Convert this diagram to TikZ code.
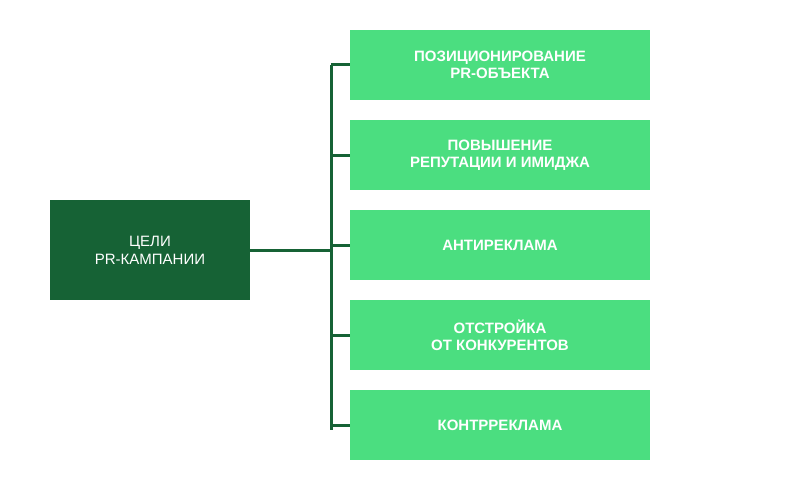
\documentclass[tikz,border=0pt]{standalone}
\usepackage{fontspec}
\setmainfont{Liberation Sans}
\usetikzlibrary{positioning}
\definecolor{darkgr}{HTML}{166235}
\definecolor{lightgr}{HTML}{4BDE80}
\tikzset{
  goal/.style={fill=lightgr, text=white, font=\fontsize{15}{17}\selectfont\bfseries, align=center,
    minimum width=300pt, minimum height=70pt, inner sep=0pt},
  link/.style={draw=darkgr, line width=3pt}
}
\begin{document}
\begin{tikzpicture}[x=1pt,y=-1pt]
\useasboundingbox (0,0) rectangle (800,500);
\node[fill=darkgr, text=white, font=\fontsize{15}{18}\selectfont, align=center,
  minimum width=200pt, minimum height=100pt, inner sep=0pt] (main) at (150,250) {ЦЕЛИ\\PR-КАМПАНИИ};

\node[goal] (g1) at (500,65) {ПОЗИЦИОНИРОВАНИЕ\\PR-ОБЪЕКТА};
\node[goal] (g2) at (500,155) {ПОВЫШЕНИЕ\\РЕПУТАЦИИ И ИМИДЖА};
\node[goal] (g3) at (500,245) {АНТИРЕКЛАМА};
\node[goal] (g4) at (500,335) {ОТСТРОЙКА\\ОТ КОНКУРЕНТОВ};
\node[goal] (g5) at (500,425) {КОНТРРЕКЛАМА};

\coordinate (top) at (331,65);
\coordinate (bot) at (331,430);
\draw[link] (top) -- (bot);
\draw[link] (main.east) -- (331,250);
\foreach \g in {g1,g2,g3,g4,g5}
  \draw[link] (\g.west) -- (\g.west -| top);
\end{tikzpicture}
\end{document}
